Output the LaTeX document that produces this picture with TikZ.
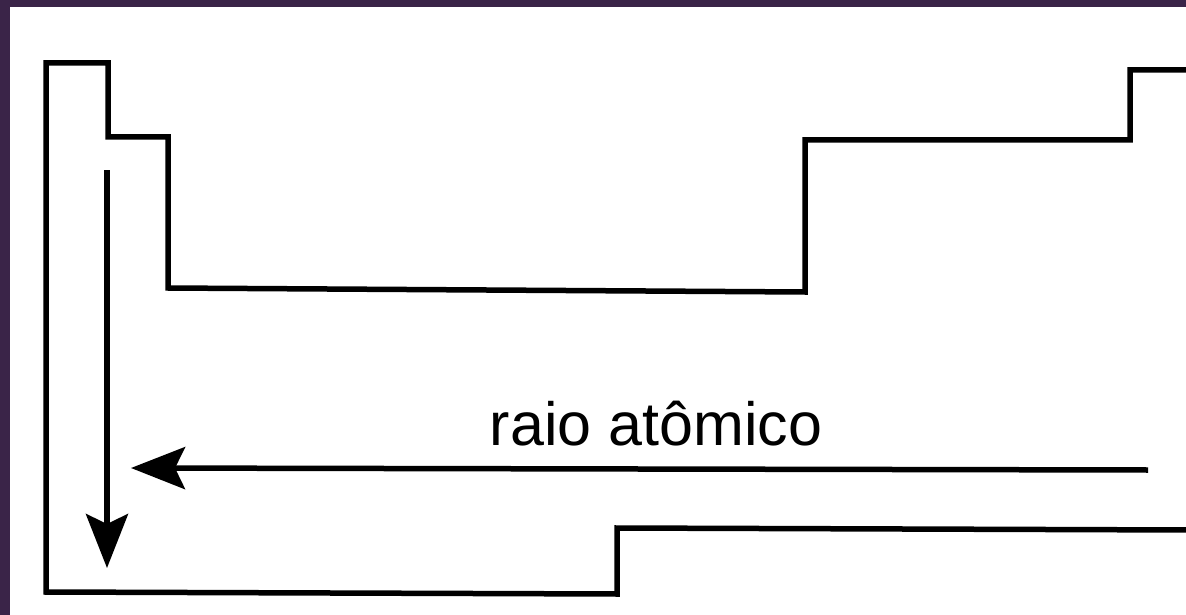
\documentclass[tikz,border=0pt]{standalone}
\usepackage{fontspec}
\setmainfont{Liberation Sans}
\usetikzlibrary{arrows.meta}
\definecolor{frame}{HTML}{3A2448}
\begin{document}
\begin{tikzpicture}[x=1pt,y=-1pt,
  outline/.style={line width=5.5pt,line join=miter,line cap=rect},
  trendarrow/.style={line width=5.5pt,-{Stealth[length=54pt,width=42pt,inset=10pt]}},
  lbl/.style={font=\fontsize{61}{70}\selectfont,anchor=base,inner sep=0pt}]
\useasboundingbox (0,0) rectangle (1186,615);
\fill[white] (0,0) rectangle (1186,615);
\fill[frame] (0,0) rectangle (1186,7);
\fill[frame] (0,0) rectangle (10,615);
% outline of the periodic table
\draw[outline] (1190,70) -- (1130,70) -- (1130,140) -- (805,140) -- (805,292)
  -- (168,288) -- (168,137) -- (108,137) -- (108,63) -- (46,63) -- (46,592)
  -- (617,594) -- (617,528) -- (1190,530);
% arrows
\coordinate (hs) at (1148,470);
\coordinate (he) at (131,468);
\coordinate (vs) at (107,170);
\coordinate (ve) at (107,568);
\draw[trendarrow] (hs) -- (he);
\draw[trendarrow] (vs) -- (ve);
\node[lbl] (label) at (656,445) {raio atômico};
\end{tikzpicture}
\end{document}
